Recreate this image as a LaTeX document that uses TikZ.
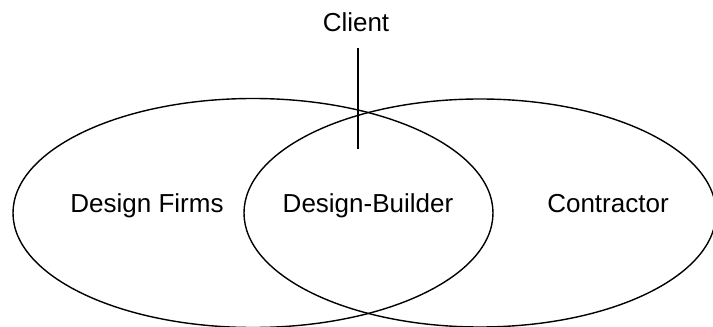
\documentclass[tikz,border=0pt]{standalone}
\usepackage{fontspec}
\setmainfont{Liberation Sans}
\usepackage{tikz}
\usetikzlibrary{positioning, calc}

\begin{document}
\begin{tikzpicture}[
    x=1pt, y=1pt,
    ring/.style={draw, line width=1.4pt},
    party/.style={font=\fontsize{26}{30}\selectfont, inner sep=0pt, anchor=base},
    link/.style={line width=1.6pt}
]
    \useasboundingbox (0,0) rectangle (713,327);
    \clip (0,0) rectangle (713,327);

    % Circles of the parties
    \draw[ring] (253,114) ellipse [x radius=240, y radius=114.5];
    \draw[ring] (480,114) ellipse [x radius=236, y radius=114];

    % Labels
    \node[party] (firms) at (147,114) {Design Firms};
    \node[party] (builder) at (368,114) {Design-Builder};
    \node[party] (contractor) at (608,114) {Contractor};
    \node[party, text depth=0pt, outer ysep=16pt] (client) at (356,295) {Client};

    % Client line
    \coordinate (clientfoot) at (358,178);
    \draw[link] (client.south -| clientfoot) -- (clientfoot);
\end{tikzpicture}
\end{document}
